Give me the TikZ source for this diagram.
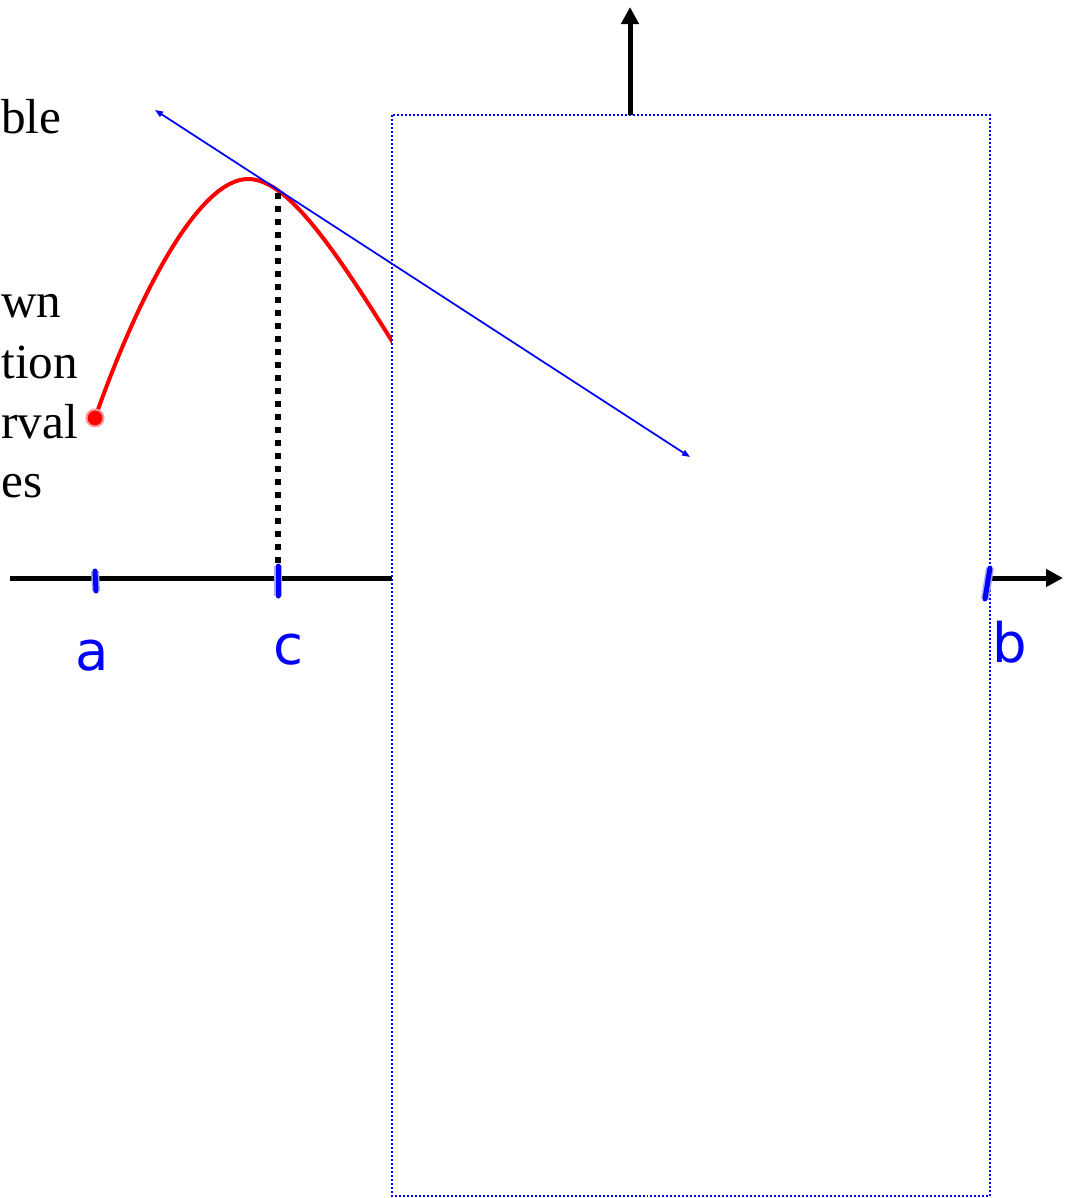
\documentclass[tikz,border=0pt]{standalone}
\usepackage{fontspec}
\setmainfont{Liberation Serif}
\newfontfamily\handfont{DejaVu Sans}
\usetikzlibrary{arrows.meta}

\begin{document}
\begin{tikzpicture}[x=0.02cm,y=-0.02cm]
  \def\xax{578}          % height of x axis
  \def\xa{95}            % position of a
  \def\xc{278}           % position of c
  \def\xb{988}           % position of b
  \def\boxl{392}         % left side of cover box
  \def\boxt{115}         % top side of cover box

  \tikzstyle{axis}=[line width=0.1cm,black,-{Triangle[length=0.34cm,width=0.34cm]}]
  \tikzstyle{curve}=[red,line width=0.08cm]
  \tikzstyle{tangent}=[blue,line width=0.035cm,{Triangle[length=0.16cm,width=0.12cm]}-{Triangle[length=0.16cm,width=0.12cm]}]
  \tikzstyle{pen}=[blue,line width=0.1cm,line cap=round,preaction={draw,blue!35,line width=0.16cm}]
  \tikzstyle{hand}=[blue,font=\handfont\fontsize{31}{31}\selectfont]
  \tikzstyle{words}=[anchor=base west,inner sep=0pt,font=\fontsize{28}{34}\selectfont]

  \useasboundingbox (0,0) rectangle (1065,1198);

  % LEFT TEXT
  \node[words] (ble)  at (1,133) {ble};
  \node[words] (wn)   at (1,317) {wn};
  \node[words] (tion) at (1,378) {tion};
  \node[words] (rval) at (1,438) {rval};
  \node[words] (es)   at (1,497) {es};

  % X AXIS
  \coordinate (xstart) at (10,\xax);
  \coordinate (xend) at (1063,\xax);
  \draw[axis] (xstart) -- (xend);

  % FUNCTION
  \draw[curve] (\xa,418) .. controls (140,290) and (200,179) .. (248,179)
    .. controls (290,179) and (340,255) .. (425,395);
  \node[circle,fill=red,draw=red!40,line width=0.04cm,minimum size=0.34cm,inner sep=0pt]
    (start) at (\xa,418) {};
  \coordinate (top) at (\xc,193);
  \draw[black,line width=0.12cm,dash pattern=on 0.12cm off 0.14cm] (top) -- (\xc,\xax);

  % COVER BOX
  \filldraw[fill=white,draw=blue,line width=0.03cm,dash pattern=on 0.04cm off 0.04cm]
    (\boxl,\boxt) rectangle (990,1196);

  % TANGENT LINE
  \coordinate (tstart) at (155,110);
  \coordinate (tend) at (690,457);
  \draw[tangent] (tstart) -- (tend);

  % Y AXIS
  \coordinate (ybase) at (630,\boxt);
  \coordinate (ytop) at (630,7);
  \draw[axis] (ybase) -- (ytop);

  % HANDWRITTEN MARKS
  \draw[pen] (\xa,571) -- (96,591);
  \draw[pen] (\xc,566) -- (\xc,596);
  \draw[pen] (990,568) -- (985,599);
  \node[hand] (a) at (92,656) {a};
  \node[hand] (c) at (288,650) {c};
  \node[hand] (b) at (1010,642) {b};
\end{tikzpicture}
\end{document}
